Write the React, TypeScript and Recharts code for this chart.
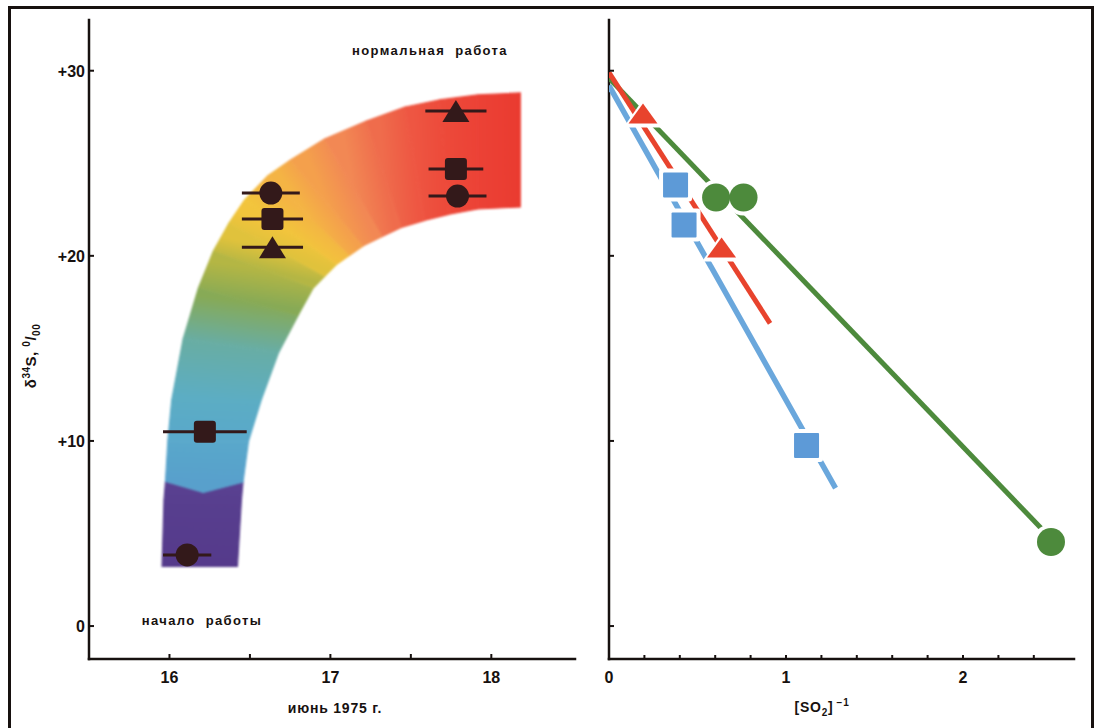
import React from 'react';
import { ScatterChart, Scatter, XAxis, YAxis, ErrorBar } from 'recharts';

const INK = '#17110f';
const MARK = '#33191a';
const FONT = '"Liberation Sans", Arial, sans-serif';

// ---------- left panel: delta34S against date, June 1975
const dateTicks = [16, 16.5, 17, 17.5, 18];
const deltaTicks = [0, 10, 20, 30];

const dateCircles = [
  { x: 16.11, y: 3.84, ex: 0.15 },
  { x: 16.63, y: 23.39, ex: 0.18 },
  { x: 17.79, y: 23.23, ex: 0.18 },
];
const dateSquares = [
  { x: 16.22, y: 10.5, ex: 0.26 },
  { x: 16.64, y: 21.99, ex: 0.19 },
  { x: 17.78, y: 24.69, ex: 0.17 },
];
const dateTriangles = [
  { x: 16.64, y: 20.46, ex: 0.19 },
  { x: 17.78, y: 27.82, ex: 0.19 },
];

// coloured band: outer and inner edge, read at matching cuts across the arc
const bandOuter = [
  { x: 15.954, y: 3.19 }, { x: 15.966, y: 6.81 }, { x: 15.975, y: 7.78 },
  { x: 15.99, y: 9.99 }, { x: 16.014, y: 12.21 }, { x: 16.085, y: 15.51 },
  { x: 16.18, y: 18.26 }, { x: 16.273, y: 20.26 }, { x: 16.37, y: 21.77 },
  { x: 16.466, y: 23.01 }, { x: 16.609, y: 24.31 }, { x: 16.752, y: 25.18 },
  { x: 16.963, y: 26.31 }, { x: 17.224, y: 27.28 }, { x: 17.464, y: 28.04 },
  { x: 17.677, y: 28.42 }, { x: 17.913, y: 28.69 }, { x: 18.18, y: 28.8 },
];
const bandInner = [
  { x: 16.422, y: 3.19 }, { x: 16.447, y: 6.81 }, { x: 16.457, y: 7.78 },
  { x: 16.491, y: 9.99 }, { x: 16.57, y: 12.21 }, { x: 16.677, y: 14.75 },
  { x: 16.798, y: 16.76 }, { x: 16.893, y: 18.26 }, { x: 16.963, y: 18.88 },
  { x: 17.036, y: 19.52 }, { x: 17.118, y: 20.02 }, { x: 17.202, y: 20.53 },
  { x: 17.323, y: 21.04 }, { x: 17.441, y: 21.53 }, { x: 17.584, y: 21.91 },
  { x: 17.739, y: 22.25 }, { x: 17.913, y: 22.53 }, { x: 18.18, y: 22.64 },
];
// the violet / blue border dips in the middle of the band (cut no. 2)
const violetDip = { x: 16.205, y: 7.2 };
const DIP_CUT = 2;

// colour at the start and end of each piece between two cuts
const bandShades = [
  ['#553a8b', '#583f8f'],
  ['#583f8f', '#5a4292'],
  ['#58a0cc', '#59a8cb'],
  ['#59a8cb', '#5cadc4'],
  ['#5cadc4', '#68ada4'],
  ['#68ada4', '#87aa56'],
  ['#87aa56', '#b4b644'],
  ['#b4b644', '#e0c23c'],
  ['#e0c23c', '#f2c43c'],
  ['#f2c43c', '#f4b444'],
  ['#f4b444', '#f4a04c'],
  ['#f4a04c', '#f28854'],
  ['#f28854', '#ef6c4c'],
  ['#ef6c4c', '#ee5642'],
  ['#ee5642', '#ed4a3a'],
  ['#ed4a3a', '#ec4236'],
  ['#ec4236', '#ea3b30'],
];

// ---------- right panel: delta34S against 1/[SO2]
const invTicks = [0, 0.2, 0.4, 0.6, 0.8, 1, 1.2, 1.4, 1.6, 1.8, 2, 2.2, 2.4];

const greenPts = [
  { x: 0.605, y: 23.15 },
  { x: 0.76, y: 23.15 },
  { x: 2.497, y: 4.54 },
];
const redPts = [
  { x: 0.192, y: 27.69 },
  { x: 0.636, y: 20.45 },
];
const bluePts = [
  { x: 0.376, y: 23.83 },
  { x: 0.424, y: 21.66 },
  { x: 1.116, y: 9.75 },
];
const greenFit = [{ x: 0, y: 29.6 }, { x: 2.49, y: 4.8 }];
const redFit = [{ x: 0, y: 29.9 }, { x: 0.91, y: 16.35 }];
const blueFit = [{ x: 0, y: 29.2 }, { x: 1.28, y: 7.45 }];

const GREEN = '#4d8a3c';
const RED = '#e8432d';
const BLUE = '#5d9ad7';
const BLUE_LINE = '#6aa7dc';

const DATE_DOMAIN: [number, number] = [15.5, 18.52];
const INV_DOMAIN: [number, number] = [0, 2.627];
const Y_DOMAIN: [number, number] = [-1.78, 32.74];
const frameLine = { stroke: INK, strokeWidth: 2.5, strokeLinecap: 'square' as const };

// band pieces with a gradient running from one cut to the next
const bandPieces = bandShades.map((shade, i) => {
  let pts = [bandOuter[i], bandOuter[i + 1], bandInner[i + 1], bandInner[i]];
  if (i + 1 === DIP_CUT) pts = [bandOuter[i], bandOuter[i + 1], violetDip, bandInner[i + 1], bandInner[i]];
  if (i === DIP_CUT) pts = [bandOuter[i], bandOuter[i + 1], bandInner[i + 1], bandInner[i], violetDip];
  const xs = pts.map((p) => p.x);
  const ys = pts.map((p) => p.y);
  const x0 = Math.min(...xs), x1 = Math.max(...xs);
  const y0 = Math.min(...ys), y1 = Math.max(...ys);
  const u = (x: number) => (x - x0) / (x1 - x0);
  const v = (y: number) => (y1 - y) / (y1 - y0);
  const a = { x: (bandOuter[i].x + bandInner[i].x) / 2, y: (bandOuter[i].y + bandInner[i].y) / 2 };
  const b = { x: (bandOuter[i + 1].x + bandInner[i + 1].x) / 2, y: (bandOuter[i + 1].y + bandInner[i + 1].y) / 2 };
  return { id: `band${i}`, pts, shade, gx1: u(a.x), gy1: v(a.y), gx2: u(b.x), gy2: v(b.y) };
});

// marker shapes
const dot = (r: number, fill: string) => (p: any) => <circle cx={p.cx} cy={p.cy} r={r} fill={fill} />;
const box = (s: number, fill: string, rx = 2) => (p: any) => (
  <rect x={p.cx - s / 2} y={p.cy - s / 2} width={s} height={s} rx={rx} fill={fill} />
);
const tri = (w: number, h: number, fill: string) => (p: any) => (
  <polygon
    points={`${p.cx},${p.cy - h / 2} ${p.cx + w / 2},${p.cy + h / 2} ${p.cx - w / 2},${p.cy + h / 2}`}
    fill={fill}
  />
);
const none = () => <g />;

const tickText = {
  fontFamily: FONT,
  fontSize: 16,
  fontWeight: 700,
  fill: INK,
};

// bottom axis: integer values get a label, the others an inward tick
const BottomTick = ({ x, y, payload, len = 5 }: any) => {
  const v = payload.value;
  const labelled = Number.isInteger(v);
  return (
    <g>
      {labelled ? (
        <text x={x} y={y + 24} textAnchor="middle" {...tickText}>
          {v}
        </text>
      ) : null}
      {!labelled || v > 0 ? <line x1={x} y1={y} x2={x} y2={y - len} stroke={INK} strokeWidth={2} /> : null}
    </g>
  );
};

const TopTick = ({ x, y }: any) => <line x1={x} y1={y} x2={x} y2={y + 5} stroke={INK} strokeWidth={2} />;

const LeftTick = ({ x, y, payload, showLabel }: any) => {
  const v = payload.value;
  return (
    <g>
      <line x1={x} y1={y} x2={x + 5} y2={y} stroke={INK} strokeWidth={2} />
      {showLabel ? (
        <text x={x - 4} y={y + 6} textAnchor="end" {...tickText}>
          {v > 0 ? `+${v}` : `${v}`}
        </text>
      ) : null}
    </g>
  );
};

const RightTick = ({ x, y }: any) => <line x1={x} y1={y} x2={x - 6} y2={y} stroke={INK} strokeWidth={2} />;

const noteStyle: React.CSSProperties = {
  position: 'absolute',
  transform: 'translate(-50%, -50%)',
  whiteSpace: 'nowrap',
  fontFamily: FONT,
  fontWeight: 700,
  fontSize: 13,
  letterSpacing: 1.4,
  wordSpacing: 5,
  color: INK,
};

const titleStyle: React.CSSProperties = {
  position: 'absolute',
  transform: 'translate(-50%, -50%)',
  whiteSpace: 'nowrap',
  fontFamily: FONT,
  fontWeight: 700,
  fontSize: 14,
  letterSpacing: 0.8,
  color: INK,
  lineHeight: 1,
};

const LEFT_MARGIN = { top: 20, right: 15, bottom: 0, left: 0 };

// bottom layer: only the rainbow band (softened like the printed original)
const BandChart = () => (
  <ScatterChart width={590} height={728} margin={LEFT_MARGIN}>
    <defs>
      {bandPieces.map((p) => (
        <linearGradient key={p.id} id={p.id} x1={p.gx1} y1={p.gy1} x2={p.gx2} y2={p.gy2}>
          <stop offset="0" stopColor={p.shade[0]} />
          <stop offset="1" stopColor={p.shade[1]} />
        </linearGradient>
      ))}
    </defs>
    <XAxis type="number" dataKey="x" domain={DATE_DOMAIN} allowDataOverflow height={69}
      tick={false} tickLine={false} axisLine={false} />
    <YAxis type="number" dataKey="y" domain={Y_DOMAIN} allowDataOverflow width={89}
      tick={false} tickLine={false} axisLine={false} />
    {bandPieces.map((p) => (
      <Scatter
        key={p.id}
        data={p.pts}
        shape={none}
        lineType="joint"
        isAnimationActive={false}
        line={{ fill: `url(#${p.id})`, stroke: `url(#${p.id})`, strokeWidth: 1.2 }}
      />
    ))}
  </ScatterChart>
);

const DateChart = () => (
  <ScatterChart width={590} height={728} margin={LEFT_MARGIN}>
    <XAxis
      type="number" dataKey="x" domain={DATE_DOMAIN} allowDataOverflow
      ticks={dateTicks} interval={0} tickSize={0} tickMargin={0} tickLine={false}
      height={69} axisLine={frameLine} tick={<BottomTick />}
    />
    <XAxis
      xAxisId="top" orientation="top" type="number" dataKey="x" domain={DATE_DOMAIN} allowDataOverflow
      ticks={[16.5, 17.5]} interval={0} tickSize={0} tickMargin={0} tickLine={false}
      height={0} axisLine={frameLine} tick={<TopTick />}
    />
    <YAxis
      type="number" dataKey="y" domain={Y_DOMAIN} allowDataOverflow
      ticks={deltaTicks} interval={0} tickSize={0} tickMargin={0} tickLine={false}
      width={89} axisLine={frameLine} tick={<LeftTick showLabel />}
    />
    <YAxis
      yAxisId="right" orientation="right" type="number" dataKey="y" domain={Y_DOMAIN} allowDataOverflow
      ticks={deltaTicks} interval={0} tickSize={0} tickMargin={0} tickLine={false}
      width={0} axisLine={frameLine} tick={<RightTick />}
    />

    <Scatter data={dateCircles} shape={dot(11.5, MARK)} isAnimationActive={false}>
      <ErrorBar dataKey="ex" direction="x" width={0} stroke={MARK} strokeWidth={3} />
    </Scatter>
    <Scatter data={dateSquares} shape={box(22, MARK, 3)} isAnimationActive={false}>
      <ErrorBar dataKey="ex" direction="x" width={0} stroke={MARK} strokeWidth={3} />
    </Scatter>
    <Scatter data={dateTriangles} shape={tri(27, 22, MARK)} isAnimationActive={false}>
      <ErrorBar dataKey="ex" direction="x" width={0} stroke={MARK} strokeWidth={3} />
    </Scatter>
  </ScatterChart>
);

const InverseChart = () => (
  <ScatterChart width={505} height={728} margin={{ top: 20, right: 21, bottom: 0, left: 0 }}>
    <XAxis
      type="number" dataKey="x" domain={INV_DOMAIN} allowDataOverflow
      ticks={invTicks} interval={0} tickSize={0} tickMargin={0} tickLine={false}
      height={69} axisLine={frameLine} tick={<BottomTick len={4} />}
    />
    <XAxis
      xAxisId="top" orientation="top" type="number" dataKey="x" domain={INV_DOMAIN} allowDataOverflow
      ticks={invTicks.slice(1)} interval={0} tickSize={0} tickMargin={0} tickLine={false}
      height={0} axisLine={frameLine} tick={<TopTick />}
    />
    <YAxis
      type="number" dataKey="y" domain={Y_DOMAIN} allowDataOverflow
      ticks={deltaTicks} interval={0} tickSize={0} tickMargin={0} tickLine={false}
      width={19} axisLine={frameLine} tick={<LeftTick />}
    />
    <YAxis
      yAxisId="right" orientation="right" type="number" dataKey="y" domain={Y_DOMAIN} allowDataOverflow
      ticks={deltaTicks} interval={0} tickSize={0} tickMargin={0} tickLine={false}
      width={0} axisLine={frameLine} tick={<RightTick />}
    />

    {/* fitted lines */}
    <Scatter data={blueFit} shape={none} lineType="joint" isAnimationActive={false}
      line={{ stroke: BLUE_LINE, strokeWidth: 5.5 }} />
    <Scatter data={greenFit} shape={none} lineType="joint" isAnimationActive={false}
      line={{ stroke: GREEN, strokeWidth: 5 }} />
    <Scatter data={redFit} shape={none} lineType="joint" isAnimationActive={false}
      line={{ stroke: RED, strokeWidth: 5 }} />

    {/* white halos that break the lines around the markers */}
    <Scatter data={redPts} shape={tri(39, 28, '#fff')} isAnimationActive={false} />
    <Scatter data={bluePts} shape={box(33, '#fff', 3)} isAnimationActive={false} />
    <Scatter data={greenPts} shape={dot(18, '#fff')} isAnimationActive={false} />

    <Scatter data={redPts} shape={tri(29, 20, RED)} isAnimationActive={false} />
    <Scatter data={bluePts} shape={box(25, BLUE, 1)} isAnimationActive={false} />
    <Scatter data={greenPts} shape={dot(14, GREEN)} isAnimationActive={false} />
  </ScatterChart>
);

export default function App() {
  return (
    <div
      style={{
        position: 'absolute',
        left: 0,
        top: 0,
        width: 1095,
        height: 728,
        background: '#fff',
        overflow: 'hidden',
        fontFamily: FONT,
      }}
    >
      {/* edge of the scanned page */}
      <div
        style={{
          position: 'absolute',
          left: 8,
          top: 6,
          width: 1080,
          height: 740,
          borderLeft: `3px solid ${INK}`,
          borderTop: `3px solid ${INK}`,
          borderRight: `3px solid ${INK}`,
        }}
      />

      <div style={{ position: 'absolute', left: 0, top: 0, filter: 'blur(1.3px)' }}>
        <BandChart />
      </div>
      <div style={{ position: 'absolute', left: 0, top: 0 }}>
        <DateChart />
      </div>
      <div style={{ position: 'absolute', left: 590, top: 0 }}>
        <InverseChart />
      </div>

      <div style={{ ...noteStyle, left: 430, top: 50 }}>нормальная работа</div>
      <div style={{ ...noteStyle, left: 202, top: 620 }}>начало работы</div>

      <div style={{ ...titleStyle, left: 335, top: 708 }}>июнь 1975 г.</div>
      <div style={{ ...titleStyle, left: 822, top: 708 }}>
        [SO<sub style={{ fontSize: 10 }}>2</sub>]<sup style={{ fontSize: 10, marginLeft: 3 }}>−1</sup>
      </div>

      <div
        style={{
          ...titleStyle,
          left: 32,
          top: 356,
          fontSize: 15,
          letterSpacing: 0.5,
          transform: 'translate(-50%, -50%) rotate(-90deg)',
        }}
      >
        δ<sup style={{ fontSize: 10 }}>34</sup>S, <sup style={{ fontSize: 10 }}>0</sup>/<sub style={{ fontSize: 10 }}>00</sub>
      </div>
    </div>
  );
}
